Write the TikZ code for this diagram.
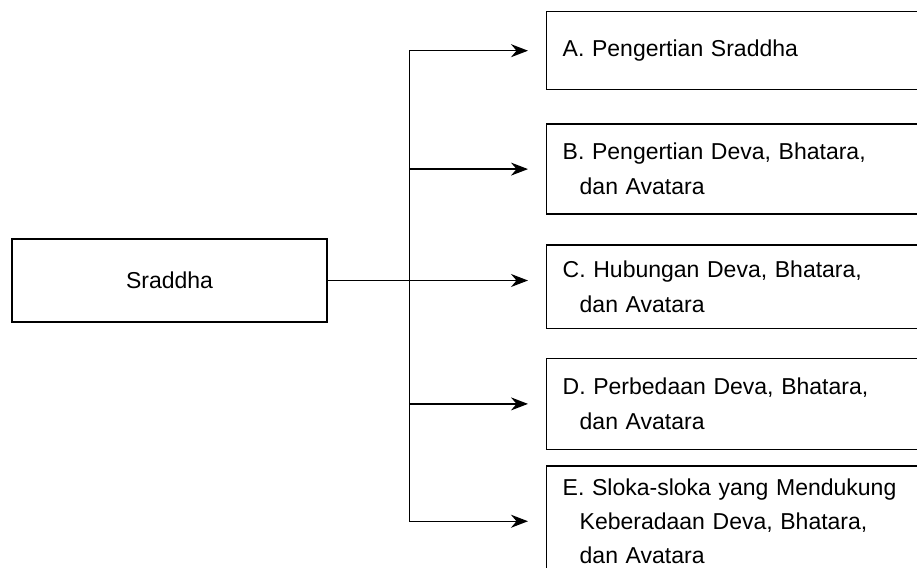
\documentclass[tikz,border=0pt]{standalone}
\usepackage{fontspec}
\setmainfont{Liberation Sans}
\usetikzlibrary{arrows.meta,positioning}

\begin{document}
\begin{tikzpicture}[
    x=1pt, y=1pt,
    root/.style={rectangle, draw, line width=0.7pt, minimum width=157.5pt, minimum height=41.5pt, font=\fontsize{11.5}{17.5}\selectfont},
    topic/.style={rectangle, draw, line width=0.7pt, text width=174pt, inner xsep=8pt, inner ysep=0pt, align=left, anchor=north west, font=\fontsize{11.5}{17.5}\selectfont},
    arrow/.style={-{Stealth[length=8.5pt,width=6.5pt]}, line width=0.7pt},
]
    \useasboundingbox (0,0) rectangle (458.5,-284);
    \clip (0,0) rectangle (458.5,-284);

    % Root
    \node[root] (sraddha) at (84.75,-140.25) {Sraddha};

    % Topics
    \node[topic, minimum height=39pt] (pengertian) at (273,-5.5) {A. Pengertian Sraddha};
    \node[topic, minimum height=45pt, below=16.5pt of pengertian] (deva) {B. Pengertian Deva, Bhatara,\\\hspace*{8.5pt}dan Avatara};
    \node[topic, minimum height=41.75pt, below=14.75pt of deva] (hubungan) {C. Hubungan Deva, Bhatara,\\\hspace*{8.5pt}dan Avatara};
    \node[topic, minimum height=45.5pt, below=14.25pt of hubungan] (perbedaan) {D. Perbedaan Deva, Bhatara,\\\hspace*{8.5pt}dan Avatara};
    \node[topic, inner ysep=6.5pt, font=\fontsize{11.5}{17}\selectfont, below=7.5pt of perbedaan] (sloka) {E. Sloka-sloka yang Mendukung\\\hspace*{8.5pt}Keberadaan Deva, Bhatara,\\\hspace*{8.5pt}dan Avatara};

    % Arrows
    \coordinate[right=40.75pt of sraddha.east] (split);
    \draw[line width=0.7pt] (split |- pengertian.west) -- (split |- sloka.west);
    \draw[arrow] (sraddha.east) -- ([xshift=-9pt]sraddha.east -| hubungan.west);
    \draw[arrow] (split |- pengertian.west) -- ([xshift=-9pt]pengertian.west);
    \draw[arrow] (split |- deva.west) -- ([xshift=-9pt]deva.west);
    \draw[arrow] (split |- perbedaan.west) -- ([xshift=-9pt]perbedaan.west);
    \draw[arrow] (split |- sloka.west) -- ([xshift=-9pt]sloka.west);

\end{tikzpicture}
\end{document}
